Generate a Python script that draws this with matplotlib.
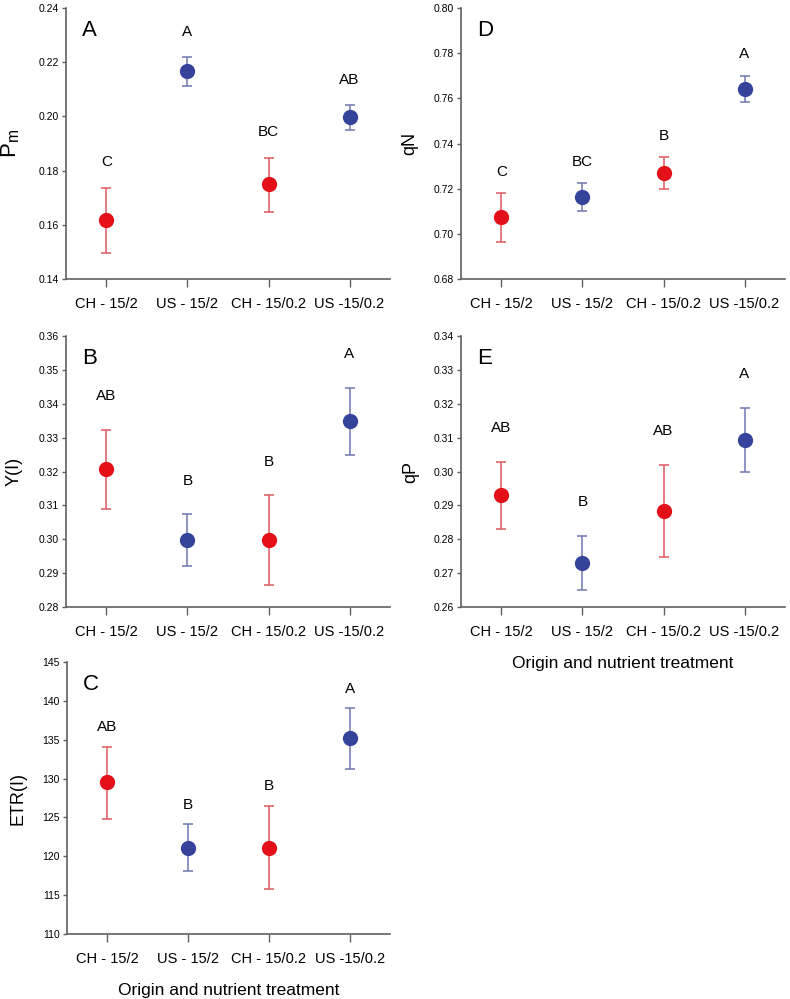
import matplotlib.pyplot as plt

plt.rcParams['font.family'] = ['Liberation Sans', 'DejaVu Sans']
plt.rcParams['mathtext.fontset'] = 'custom'
plt.rcParams['mathtext.rm'] = 'Liberation Sans'

# ---- Data ----
treatments = ['CH - 15/2', 'US - 15/2', 'CH - 15/0.2', 'US -15/0.2']
origin = ['CH', 'US', 'CH', 'US']

pm_mean = [0.1618, 0.2168, 0.1750, 0.1997]
pm_low = [0.1495, 0.2113, 0.1647, 0.1950]
pm_high = [0.1737, 0.2219, 0.1845, 0.2041]
pm_letters = ['C', 'A', 'BC', 'AB']
pm_letter_y = [0.1833, 0.2313, 0.1944, 0.2134]

yi_mean = [0.3207, 0.2999, 0.2998, 0.3349]
yi_low = [0.3090, 0.2922, 0.2865, 0.3249]
yi_high = [0.3321, 0.3074, 0.3130, 0.3445]
yi_letters = ['AB', 'B', 'B', 'A']
yi_letter_y = [0.3422, 0.3172, 0.3229, 0.3545]

etr_mean = [129.6, 121.1, 121.1, 135.2]
etr_low = [124.8, 118.1, 115.75, 131.2]
etr_high = [134.1, 124.2, 126.5, 139.1]
etr_letters = ['AB', 'B', 'B', 'A']
etr_letter_y = [136.6, 126.6, 129.0, 141.5]

qn_mean = [0.7075, 0.7165, 0.7271, 0.7643]
qn_low = [0.6964, 0.7103, 0.7197, 0.7584]
qn_high = [0.7180, 0.7227, 0.7342, 0.7698]
qn_letters = ['C', 'BC', 'B', 'A']
qn_letter_y = [0.7275, 0.7320, 0.7435, 0.7795]

qp_mean = [0.2930, 0.2730, 0.2885, 0.3094]
qp_low = [0.2830, 0.2650, 0.2747, 0.2998]
qp_high = [0.3029, 0.2810, 0.3019, 0.3187]
qp_letters = ['AB', 'B', 'AB', 'A']
qp_letter_y = [0.3127, 0.2909, 0.3120, 0.3287]

dot_col = {'CH': '#e3101a', 'US': '#35449a'}
bar_col = {'CH': '#dd5a5e', 'US': '#6e76b0'}
axis_grey = '#606060'

fig = plt.figure(figsize=(7.9, 9.99), dpi=100)


def panel(rect, letter, ylabel, mean, low, high, letters, letter_y,
          ylim, yticks, yfmt, xlabel=None, ylab_x=-0.16, ylab_size=13):
    ax = fig.add_axes(rect)
    for i in range(len(treatments)):
        o = origin[i]
        ax.errorbar(i, mean[i], yerr=[[mean[i] - low[i]], [high[i] - mean[i]]],
                    fmt='none', ecolor=bar_col[o], elinewidth=1.1,
                    capsize=3.8, capthick=1.1, zorder=2)
        ax.plot(i, mean[i], 'o', color=dot_col[o], markersize=11,
                markeredgewidth=0, zorder=3)
        ax.text(i, letter_y[i], letters[i], ha='center', va='center',
                fontsize=11)
    ax.set_xlim(-0.5, 3.5)
    ax.set_ylim(*ylim)
    ax.set_yticks(yticks)
    ax.set_yticklabels([yfmt.format(v) for v in yticks])
    ax.set_xticks(range(len(treatments)))
    ax.set_xticklabels(treatments, fontsize=10.5)
    ax.tick_params(axis='y', labelsize=7.5, length=3, color=axis_grey,
                   width=1, pad=2)
    ax.tick_params(axis='x', length=6, color=axis_grey, width=1, pad=7)
    for s in ['top', 'right']:
        ax.spines[s].set_visible(False)
    for s in ['left', 'bottom']:
        ax.spines[s].set_color(axis_grey)
        ax.spines[s].set_linewidth(1.2)
    ax.text(ylab_x, 0.5, ylabel, transform=ax.transAxes, rotation=90,
            ha='center', va='center', fontsize=ylab_size)
    ax.text(0.05, 0.955, letter, transform=ax.transAxes, fontsize=16,
            ha='left', va='top')
    if xlabel:
        ax.set_xlabel(xlabel, fontsize=12.5, labelpad=12)
    return ax


panel([0.0835, 0.7207, 0.4102, 0.2713], 'A', 'P$_\\mathregular{m}$',
      pm_mean, pm_low, pm_high, pm_letters, pm_letter_y,
      (0.14, 0.24), [0.14, 0.16, 0.18, 0.20, 0.22, 0.24], '{:.2f}',
      ylab_x=-0.17, ylab_size=16)
panel([0.0835, 0.392, 0.4102, 0.272], 'B', 'Y(I)',
      yi_mean, yi_low, yi_high, yi_letters, yi_letter_y,
      (0.28, 0.36), [0.28, 0.29, 0.30, 0.31, 0.32, 0.33, 0.34, 0.35, 0.36],
      '{:.2f}', ylab_x=-0.16)
panel([0.0848, 0.065, 0.4089, 0.2723], 'C', 'ETR(I)',
      etr_mean, etr_low, etr_high, etr_letters, etr_letter_y,
      (110, 145), [110, 115, 120, 125, 130, 135, 140, 145], '{:d}',
      xlabel='Origin and nutrient treatment', ylab_x=-0.152)
panel([0.5835, 0.7207, 0.4102, 0.2713], 'D', 'qN',
      qn_mean, qn_low, qn_high, qn_letters, qn_letter_y,
      (0.68, 0.80), [0.68, 0.70, 0.72, 0.74, 0.76, 0.78, 0.80], '{:.2f}',
      ylab_x=-0.157)
panel([0.5835, 0.392, 0.4102, 0.272], 'E', 'qP',
      qp_mean, qp_low, qp_high, qp_letters, qp_letter_y,
      (0.26, 0.34), [0.26, 0.27, 0.28, 0.29, 0.30, 0.31, 0.32, 0.33, 0.34],
      '{:.2f}', xlabel='Origin and nutrient treatment', ylab_x=-0.154)

fig.savefig('out.png', dpi=100)
